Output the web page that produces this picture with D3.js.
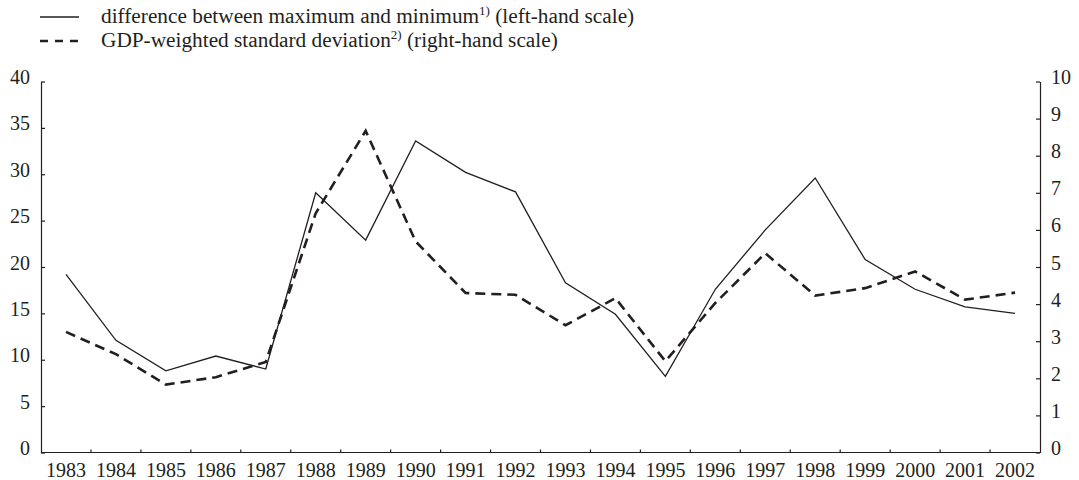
<!DOCTYPE html>
<html>
<head>
<meta charset="utf-8">
<script src="https://cdn.jsdelivr.net/npm/d3@7"></script>
<style>
  html, body { margin: 0; padding: 0; background: #fff; }
  svg { display: block; }
  svg text { font-family: "Liberation Serif", "Times New Roman", Times, "DejaVu Serif", serif !important; fill: #231f20; }
</style>
</head>
<body>
<svg id="chart" width="1079" height="480"></svg>
<script>
// Years on the horizontal axis
const years = ["1983","1984","1985","1986","1987","1988","1989","1990","1991","1992",
               "1993","1994","1995","1996","1997","1998","1999","2000","2001","2002"];

// Difference between maximum and minimum (left-hand scale)
const maxMinDiff = [19.2, 12.1, 8.8, 10.4, 9.0, 28.0, 22.9, 33.6, 30.2, 28.1,
                    18.3, 14.9, 8.2, 17.6, 24.0, 29.6, 20.8, 17.6, 15.7, 15.0];

// GDP-weighted standard deviation (right-hand scale)
const gdpStdDev = [3.25, 2.65, 1.83, 2.03, 2.44, 6.45, 8.67, 5.69, 4.30, 4.25,
                   3.43, 4.16, 2.46, 4.03, 5.37, 4.23, 4.43, 4.88, 4.12, 4.31];

const leftTicks = [0, 5, 10, 15, 20, 25, 30, 35, 40];
const rightTicks = [0, 1, 2, 3, 4, 5, 6, 7, 8, 9, 10];

const legendItems = [
  { text: "difference between maximum and minimum", sup: "1)", tail: " (left-hand scale)", dashed: false },
  { text: "GDP-weighted standard deviation", sup: "2)", tail: " (right-hand scale)", dashed: true }
];

const ink = "#231f20";
const serif = "'Liberation Serif', 'Times New Roman', Times, 'DejaVu Serif', serif";
const plotLeft = 41, plotRight = 1040, plotTop = 81.5, plotBottom = 452.5;

const svg = d3.select("#chart");

const x = d3.scaleBand().domain(years).range([plotLeft, plotRight]);
const yL = d3.scaleLinear().domain([0, 40]).range([plotBottom, plotTop]);
const yR = d3.scaleLinear().domain([0, 10]).range([plotBottom, plotTop]);

// Left axis, ticks pointing into the plot
const gL = svg.append("g").attr("transform", `translate(${plotLeft},0)`)
  .call(d3.axisLeft(yL).tickValues(leftTicks).tickSizeInner(-4).tickSizeOuter(0).tickPadding(11));

// Right axis, ticks pointing into the plot
const gR = svg.append("g").attr("transform", `translate(${plotRight},0)`)
  .call(d3.axisRight(yR).tickValues(rightTicks).tickSizeInner(-4).tickSizeOuter(0).tickPadding(11));

[gL, gR].forEach(g => {
  g.selectAll("text").attr("dy", "0.1em");
});

// Bottom axis: labels centred in each year band
const gB = svg.append("g").attr("transform", `translate(0,${plotBottom})`)
  .call(d3.axisBottom(x).tickSize(0).tickSizeOuter(0).tickPadding(10));
gB.select(".domain").remove();

svg.selectAll("g").attr("font-family", serif).attr("font-size", 20);

// Bottom baseline and year separators (ticks pointing up)
svg.append("line")
  .attr("x1", plotLeft).attr("x2", plotRight)
  .attr("y1", plotBottom).attr("y2", plotBottom)
  .attr("stroke", ink).attr("stroke-width", 1.2);

svg.append("g").selectAll("line")
  .data(years.slice(0, -1))
  .join("line")
  .attr("x1", d => x(d) + x.bandwidth()).attr("x2", d => x(d) + x.bandwidth())
  .attr("y1", plotBottom).attr("y2", plotBottom - 3)
  .attr("stroke", ink).attr("stroke-width", 1.2);

svg.selectAll(".domain").attr("stroke", ink).attr("stroke-width", 1.2);
svg.selectAll(".tick line").attr("stroke", ink).attr("stroke-width", 1.2);
svg.selectAll(".tick text")
  .attr("font-family", serif)
  .attr("font-size", 20)
  .attr("fill", ink);

// Series lines
const lineL = d3.line()
  .x((d, i) => x(years[i]) + x.bandwidth() / 2)
  .y(d => yL(d));
const lineR = d3.line()
  .x((d, i) => x(years[i]) + x.bandwidth() / 2)
  .y(d => yR(d));

svg.append("path")
  .datum(maxMinDiff)
  .attr("d", lineL)
  .attr("fill", "none")
  .attr("stroke", ink)
  .attr("stroke-width", 1.3)
  .attr("stroke-linejoin", "miter");

svg.append("path")
  .datum(gdpStdDev)
  .attr("d", lineR)
  .attr("fill", "none")
  .attr("stroke", ink)
  .attr("stroke-width", 2.6)
  .attr("stroke-dasharray", "10,6");

// Legend
const legend = svg.append("g").attr("font-family", serif);
legendItems.forEach((item, i) => {
  const cy = 23 + i * 24;
  legend.append("line")
    .attr("x1", 40).attr("x2", 79)
    .attr("y1", cy - 6).attr("y2", cy - 6)
    .attr("stroke", ink)
    .attr("stroke-width", item.dashed ? 2.6 : 1.3)
    .attr("stroke-dasharray", item.dashed ? "8,7" : null);
  const t = legend.append("text")
    .attr("x", 101).attr("y", cy)
    .attr("font-family", serif)
    .attr("font-size", 21.3)
    .attr("fill", ink);
  t.append("tspan").text(item.text);
  t.append("tspan").attr("font-size", 13).attr("dy", -8).text(item.sup);
  t.append("tspan").attr("dy", 8).text(item.tail);
});
</script>
</body>
</html>
